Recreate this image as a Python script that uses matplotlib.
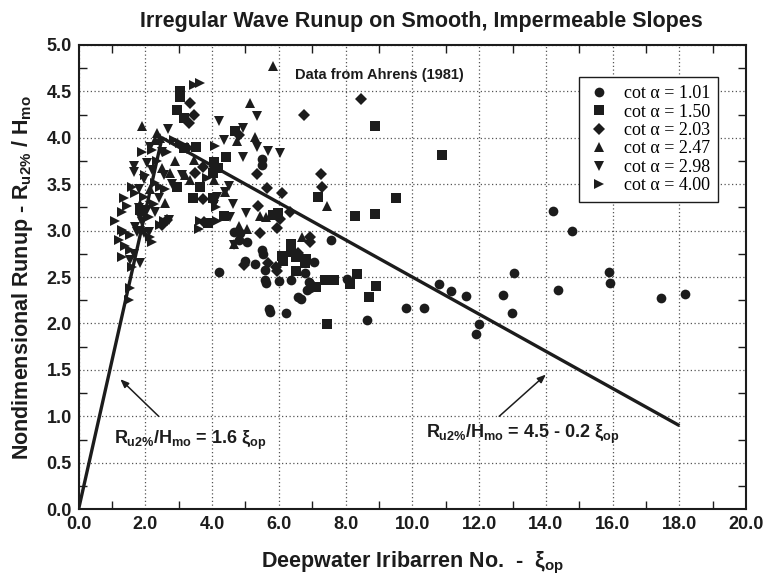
import matplotlib
matplotlib.use("Agg")
import matplotlib.pyplot as plt
from matplotlib.ticker import MultipleLocator, FormatStrFormatter

# cot alpha = 1.01
xi_101 = [4.2, 4.65, 4.85, 4.82, 5.05, 4.99, 5.27, 5.5, 5.52, 5.48, 5.5, 5.57, 5.57, 5.6,
          5.7, 5.72, 6.0, 6.22, 6.35, 6.57, 6.65, 6.77, 6.85, 6.93, 6.9, 7.05, 7.55, 8.03,
          8.63, 9.8, 10.35, 10.8, 11.15, 11.6, 11.9, 12.0, 12.7, 12.97, 13.05, 14.2, 14.37,
          14.77, 15.88, 15.93, 17.45, 18.17]
ru_101 = [2.55, 2.99, 2.97, 2.9, 2.88, 2.67, 2.64, 2.79, 2.75, 3.77, 3.71, 2.58, 2.47, 2.44,
          2.16, 2.12, 2.46, 2.11, 2.47, 2.29, 2.26, 2.54, 2.36, 2.38, 2.45, 2.66, 2.9, 2.48,
          2.04, 2.17, 2.17, 2.42, 2.35, 2.3, 1.89, 1.99, 2.31, 2.11, 2.54, 3.21, 2.36,
          3.0, 2.55, 2.44, 2.27, 2.32]

# cot alpha = 1.50
xi_150 = [2.95, 3.03, 3.05, 3.15, 3.15, 3.53, 2.95, 3.44, 3.65, 3.87, 4.03, 4.05, 4.18, 4.03,
          4.35, 4.43, 4.7, 5.82, 5.96, 6.1, 6.12, 6.35, 6.37, 6.5, 6.5, 6.77, 6.8, 7.12, 7.16,
          7.38, 7.43, 7.65, 8.12, 8.27, 8.35, 8.7, 8.88, 8.88, 8.9, 9.5, 10.88, 1.85]
ru_150 = [4.3, 4.5, 4.44, 4.21, 3.89, 3.9, 3.47, 3.35, 3.47, 3.08, 3.35, 3.74, 3.67, 3.62,
          3.16, 3.79, 4.07, 3.17, 3.19, 2.73, 2.67, 2.77, 2.86, 2.56, 2.72, 2.65, 2.69, 2.39, 3.36,
          2.47, 1.99, 2.47, 2.43, 3.16, 2.53, 2.28, 3.18, 4.13, 2.4, 3.35, 3.81, 3.22]

# cot alpha = 2.03
xi_203 = [2.5, 2.65, 3.25, 3.3, 3.33, 3.47, 3.5, 3.73, 3.73, 3.75, 4.8, 4.95, 5.33, 5.38,
          5.42, 5.63, 5.67, 5.9, 5.95, 5.95, 6.03, 6.1, 6.33, 6.57, 6.75, 6.94, 6.94, 6.95,
          7.25, 7.3, 8.45]
ru_203 = [3.06, 3.11, 3.89, 4.16, 4.37, 4.25, 3.62, 3.69, 3.34, 3.09, 4.03, 2.63, 3.61, 3.26,
          2.97, 3.46, 2.65, 2.61, 2.56, 3.03, 3.13, 3.4, 3.2, 2.76, 4.24, 2.93, 2.88, 2.42,
          3.61, 3.47, 4.42]

# cot alpha = 2.47
xi_247 = [1.9, 2.35, 2.45, 2.3, 2.5, 2.75, 3.2, 3.35, 3.45, 1.85, 4.05, 4.05, 4.4, 4.75,
          5.27, 5.13, 5.82, 7.43, 5.42, 5.6, 4.82, 5.05, 4.65, 6.7, 2.6, 2.9, 2.15]
ru_247 = [4.13, 4.05, 4.0, 3.98, 3.67, 3.62, 3.6, 3.55, 3.76, 3.29, 3.54, 3.73, 3.42, 3.96,
          4.01, 4.37, 4.77, 3.26, 3.16, 3.15, 3.05, 3.02, 2.86, 2.93, 3.3, 3.75, 3.45]

# cot alpha = 2.98
xi_298 = [1.55, 1.65, 1.85, 1.7, 1.75, 1.85, 1.95, 2.1, 1.9, 1.85, 1.8, 2.05, 1.95, 2.7,
          1.95, 1.65, 1.65, 2.05, 2.15, 2.67, 3.1, 4.05, 4.15, 4.4, 4.5, 4.63, 4.55, 5.03,
          4.65, 4.93, 4.35, 4.2, 4.94, 5.33, 5.35, 5.67, 6.03, 2.4, 2.2, 2.55, 1.8, 2.3,
          2.8, 2.5]
ru_298 = [2.68, 2.75, 2.65, 3.04, 2.99, 3.0, 2.97, 2.99, 3.09, 3.15, 3.24, 3.22, 3.19, 3.11,
          3.56, 3.63, 3.7, 3.73, 3.9, 4.09, 3.6, 3.28, 3.36, 3.42, 3.48, 3.29, 3.15, 3.19,
          2.84, 3.79, 3.98, 4.18, 4.11, 4.23, 3.9, 3.86, 3.84, 3.35, 3.65, 3.6, 3.45, 3.2,
          3.5, 3.85]

# cot alpha = 4.00
xi_400 = [1.5, 1.55, 1.6, 1.3, 1.4, 1.55, 1.35, 1.55, 1.3, 1.3, 1.45, 1.6, 1.95, 2.15, 2.2,
          2.45, 2.55, 2.25, 2.3, 2.45, 2.2, 2.85, 3.05, 3.45, 3.65, 3.6, 3.65, 3.85, 4.1, 4.13,
          4.15, 1.1, 1.2, 1.7, 2.0, 2.35, 2.6, 2.1, 1.9, 2.65, 1.35]
ru_400 = [2.25, 2.38, 2.61, 2.72, 2.83, 2.79, 2.99, 2.95, 3.01, 3.2, 3.26, 3.47, 3.36, 2.93, 2.88,
          3.06, 3.1, 3.29, 3.51, 3.47, 3.87, 3.98, 3.94, 4.57, 4.59, 3.02, 3.1, 3.57, 3.91, 3.25,
          3.1, 3.1, 2.9, 3.4, 3.6, 3.75, 3.45, 3.15, 3.85, 3.85, 3.35]

# fitted envelope: Ru2%/Hmo = 1.6 xi and 4.5 - 0.2 xi
fit_xi = [0.0, 2.5, 18.0]
fit_ru = [0.0, 4.0, 0.9]

series = [
    (xi_101, ru_101, "o", 7.0, "cot \u03b1 = 1.01"),
    (xi_150, ru_150, "s", 6.5, "cot \u03b1 = 1.50"),
    (xi_203, ru_203, "D", 6.0, "cot \u03b1 = 2.03"),
    (xi_247, ru_247, "^", 7.5, "cot \u03b1 = 2.47"),
    (xi_298, ru_298, "v", 7.5, "cot \u03b1 = 2.98"),
    (xi_400, ru_400, ">", 7.5, "cot \u03b1 = 4.00"),
]

plt.rcParams["mathtext.fontset"] = "custom"
plt.rcParams["mathtext.rm"] = "Liberation Sans:bold"
plt.rcParams["mathtext.it"] = "Liberation Sans:bold"
plt.rcParams["mathtext.bf"] = "Liberation Sans:bold"

sans = ["Liberation Sans", "DejaVu Sans"]
ink = "#1c1c1c"

fig = plt.figure(figsize=(7.63, 5.76), dpi=100)
ax = fig.add_axes([0.103, 0.116, 0.875, 0.806])

for xs, ys, mk, ms, lab in series:
    ax.plot(xs, ys, linestyle="none", marker=mk, markersize=ms, color=ink,
            markeredgewidth=0, label=lab)

ax.plot(fit_xi, fit_ru, color=ink, linewidth=2.4, solid_capstyle="butt")

ax.set_xlim(0, 20)
ax.set_ylim(0, 5)
ax.xaxis.set_major_locator(MultipleLocator(2))
ax.xaxis.set_minor_locator(MultipleLocator(1))
ax.yaxis.set_major_locator(MultipleLocator(0.5))
ax.yaxis.set_minor_locator(MultipleLocator(0.25))
ax.xaxis.set_major_formatter(FormatStrFormatter("%.1f"))
ax.yaxis.set_major_formatter(FormatStrFormatter("%.1f"))
ax.tick_params(which="major", length=0, pad=5, labelsize=13)
ax.tick_params(which="minor", direction="in", length=6, width=1.0,
               top=True, right=True, color=ink)
for lbl in ax.get_xticklabels() + ax.get_yticklabels():
    lbl.set_family(sans)
    lbl.set_fontweight("bold")
    lbl.set_color(ink)
ax.grid(True, which="major", linestyle=(0, (1, 2)), linewidth=0.9, color="#555555")
for sp in ax.spines.values():
    sp.set_linewidth(1.5)
    sp.set_color(ink)

fig.text(0.552, 0.962, "Irregular Wave Runup on Smooth, Impermeable Slopes", family=sans,
         fontweight="bold", fontsize=15.5, ha="center", va="center", color=ink)
ax.set_xlabel(r"Deepwater Iribarren No.  -  $\xi_{op}$", family=sans,
              fontweight="bold", fontsize=15.5, labelpad=12, color=ink)
ax.set_ylabel(r"Nondimensional Runup - $R_{u2\%}$ / $H_{mo}$", family=sans,
              fontweight="bold", fontsize=15.5, labelpad=8, color=ink)

ax.text(9.0, 4.68, "Data from Ahrens (1981)", family=sans, fontweight="bold",
        fontsize=10.5, ha="center", va="center", color=ink)

# leader arrows and equation labels
ax.annotate("", xy=(1.25, 1.4), xytext=(2.4, 1.0),
            arrowprops=dict(arrowstyle="-|>,head_length=0.5,head_width=0.2", color=ink,
                            lw=1.1, shrinkA=0, shrinkB=0))
ax.annotate("", xy=(14.0, 1.45), xytext=(12.6, 1.0),
            arrowprops=dict(arrowstyle="-|>,head_length=0.5,head_width=0.2", color=ink,
                            lw=1.1, shrinkA=0, shrinkB=0))
ax.text(1.05, 0.74, r"$R_{u2\%}/H_{mo}$ = 1.6 $\xi_{op}$", family=sans, fontweight="bold",
        fontsize=13, ha="left", va="center", color=ink)
ax.text(10.4, 0.81, r"$R_{u2\%}/H_{mo}$ = 4.5 - 0.2 $\xi_{op}$", family=sans,
        fontweight="bold", fontsize=13, ha="left", va="center", color=ink)

leg = ax.legend(loc="upper right", bbox_to_anchor=(0.958, 0.931), borderaxespad=0,
                frameon=True, fancybox=False, edgecolor=ink, framealpha=1,
                prop={"family": ["Liberation Serif", "DejaVu Serif"], "size": 13},
                handletextpad=0.7, labelspacing=0.08, borderpad=0.45, handlelength=1.3)
leg.get_frame().set_linewidth(1.0)

fig.savefig("out.png", dpi=100)
